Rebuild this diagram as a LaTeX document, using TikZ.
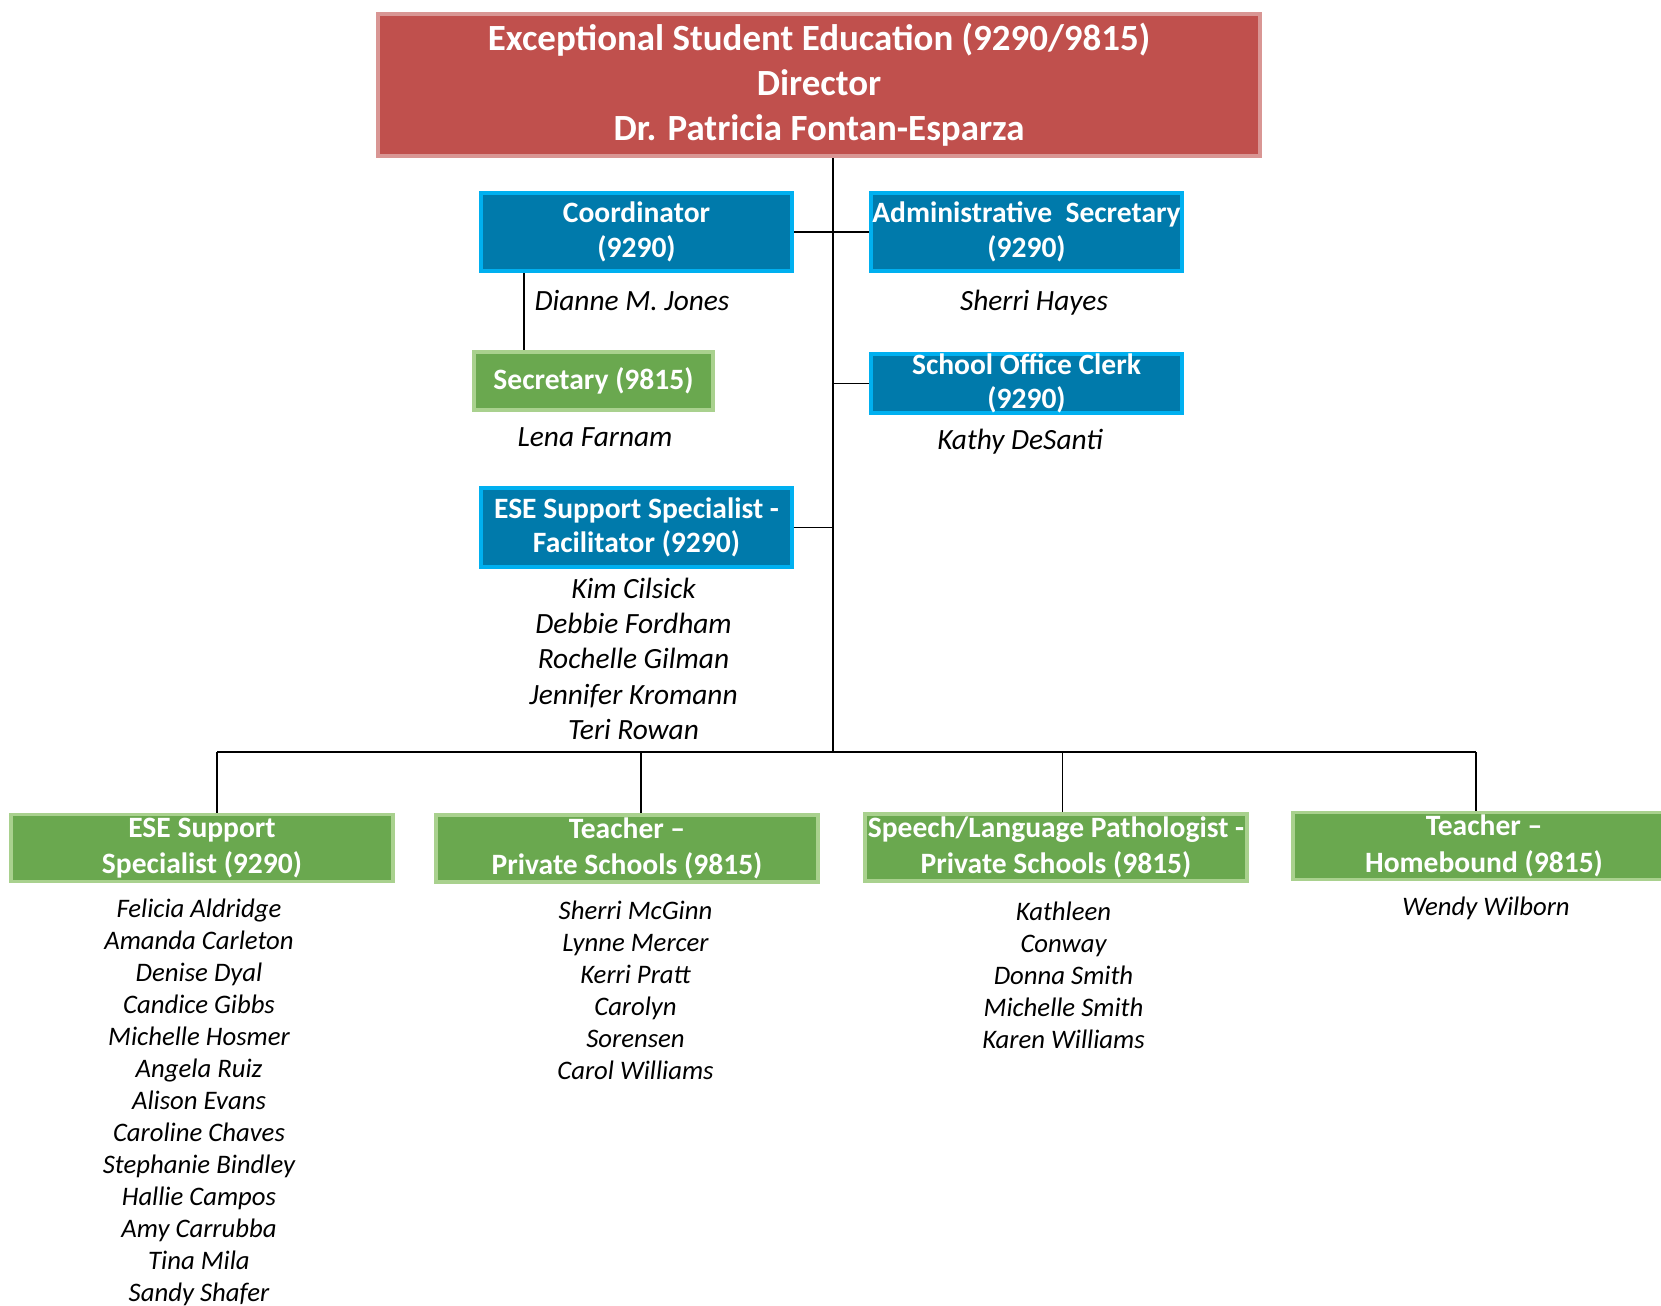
\documentclass[tikz,border=0pt]{standalone}
\usepackage{fontspec}
\setmainfont{Carlito}
\usepackage{tikz}
\usetikzlibrary{positioning,backgrounds}
\definecolor{dirred}{HTML}{C0504D}
\definecolor{dirredlt}{HTML}{D99694}
\definecolor{staffblue}{HTML}{007AAB}
\definecolor{staffcyan}{HTML}{00B0F0}
\definecolor{staffgreen}{HTML}{6AA84F}
\definecolor{staffgreenlt}{HTML}{A9D18E}

\begin{document}
\begin{tikzpicture}[x=0.01cm,y=-0.01cm,
  topbox/.style={draw=dirredlt,fill=dirred,line width=1.2pt,text=white,align=center,inner sep=0pt,
    minimum width=8.82cm,minimum height=1.42cm,font=\fontsize{10.5}{12.8}\selectfont\bfseries},
  bluebox/.style={draw=staffcyan,fill=staffblue,line width=1.1pt,text=white,align=center,inner sep=0pt,
    minimum width=3.11cm,font=\fontsize{8.4}{9.8}\selectfont\bfseries},
  greenbox/.style={draw=staffgreenlt,fill=staffgreen,line width=1.1pt,text=white,align=center,inner sep=0pt,
    minimum width=3.82cm,minimum height=0.67cm,font=\fontsize{8.4}{10.4}\selectfont\bfseries},
  person/.style={anchor=base,inner sep=0pt,font=\fontsize{8.35}{9.6}\selectfont\itshape},
  smallperson/.style={person,font=\fontsize{7.6}{9}\selectfont\itshape},
  conn/.style={line width=0.5pt}]
\useasboundingbox (0,0) rectangle (1661,1305);
% director
\node[topbox] (dir) at (819,85) {Exceptional Student Education (9290/9815)\\Director\\Dr. Patricia Fontan-Esparza};
% office staff
\node[bluebox,minimum height=0.78cm] (coord) at (636.5,232) {Coordinator\\(9290)};
\node[bluebox,minimum height=0.78cm] (admin) at (1026.5,232) {Administrative\ \ Secretary\\(9290)};
\node[bluebox,minimum height=0.59cm] (clerk) at (1026.5,383.5) {School Office Clerk\\(9290)};
\node[bluebox,minimum height=0.79cm] (facil) at (636.5,527.5) {ESE Support Specialist -\\Facilitator (9290)};
\node[greenbox,minimum width=2.39cm,minimum height=0.58cm,font=\fontsize{8.4}{9.8}\selectfont\bfseries] (sec) at (593.5,381) {Secretary (9815)};
\node[person] (dmj) at (632,310) {Dianne M. Jones};
\node[person] (sh) at (1034,310) {Sherri Hayes};
\node[person] (lf) at (595,446) {Lena Farnam};
\node[person] (kd) at (1020,449) {Kathy DeSanti};
\foreach \n [count=\i] in {Kim Cilsick,Debbie Fordham,Rochelle Gilman,Jennifer Kromann,Teri Rowan}
  \node[person] (fa\i) at (633.5,{598.5+35.2*(\i-1)}) {\n};
% field staff
\node[greenbox] (essp) at (202,848) {ESE Support\\Specialist (9290)};
\node[greenbox] (tps) at (627,848.5) {Teacher –\\Private Schools (9815)};
\node[greenbox] (slp) at (1056,847.5) {Speech/Language Pathologist -\\Private Schools (9815)};
\node[greenbox] (thb) at (1484,846) {Teacher –\\Homebound (9815)};
\foreach \n [count=\i] in {Felicia Aldridge,Amanda Carleton,Denise Dyal,Candice Gibbs,Michelle Hosmer,
    Angela Ruiz,Alison Evans,Caroline Chaves,Stephanie Bindley,Hallie Campos,Amy Carrubba,Tina Mila,Sandy Shafer}
  \node[smallperson] (es\i) at (199,{917+32*(\i-1)}) {\n};
\foreach \n [count=\i] in {Sherri McGinn,Lynne Mercer,Kerri Pratt,Carolyn,Sorensen,Carol Williams}
  \node[smallperson] (tp\i) at (635.5,{919+32*(\i-1)}) {\n};
\foreach \n [count=\i] in {Kathleen,Conway,Donna Smith,Michelle Smith,Karen Williams}
  \node[smallperson] (sl\i) at (1063.5,{920+32*(\i-1)}) {\n};
\node[smallperson] (th1) at (1486,915) {Wendy Wilborn};
% lines
\begin{scope}[on background layer]
\coordinate (trunk) at (833,752);
\draw[conn] (dir.south -| trunk) -- (trunk);
\draw[conn] (coord.east) -- (admin.west);
\draw[conn] (clerk.west) -- (clerk.west -| trunk);
\draw[conn] (facil.east) -- (facil.east -| trunk);
\coordinate (seclink) at (524,0);
\draw[conn] (coord.south -| seclink) -- (sec.north -| seclink);
\coordinate (busl) at (217,752);
\coordinate (busr) at (1476,752);
\draw[conn] (busl) -- (busr);
\foreach \x/\b in {217/essp,641/tps,1062.5/slp,1476/thb}{
  \coordinate (drop) at (\x,752);
  \draw[conn] (drop) -- (drop |- \b.north);}
\end{scope}
\end{tikzpicture}
\end{document}
